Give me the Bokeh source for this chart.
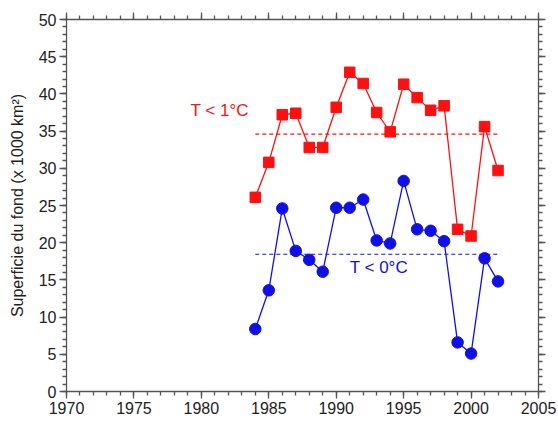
from bokeh.plotting import figure
from bokeh.models import LinearAxis, SingleIntervalTicker, Range1d, Label
from bokeh.embed import file_html
from bokeh.resources import INLINE

years = list(range(1984, 2003))
area_t1 = [26.1, 30.8, 37.2, 37.4, 32.8, 32.8, 38.2, 42.9, 41.4, 37.5, 34.9,
           41.3, 39.5, 37.8, 38.4, 21.8, 20.9, 35.6, 29.7]
area_t0 = [8.4, 13.6, 24.6, 18.9, 17.7, 16.1, 24.7, 24.7, 25.8, 20.3, 19.9,
           28.3, 21.8, 21.6, 20.2, 6.6, 5.1, 17.9, 14.8]
mean_t1 = 34.6
mean_t0 = 18.45
mean_span = [1984, 2002]

RED = "#ff1010"
BLUE = "#1010e6"
AX = "#555555"
FONT = "Liberation Sans"

p = figure(width=558, height=428, output_backend="svg", toolbar_location=None,
           x_range=Range1d(1970, 2005), y_range=Range1d(0, 50),
           min_border_left=66, min_border_right=20, min_border_top=19,
           min_border_bottom=37)
p.grid.visible = False
p.outline_line_color = None
p.background_fill_color = "white"
p.border_fill_color = "white"

def style(ax, labels=True):
    ax.axis_line_color = AX
    ax.axis_line_width = 1.3
    ax.major_tick_line_color = AX
    ax.minor_tick_line_color = AX
    ax.major_tick_line_width = 1.3
    ax.minor_tick_line_width = 1.3
    ax.major_tick_in = 0
    ax.major_tick_out = 7
    ax.minor_tick_in = 0
    ax.minor_tick_out = 4
    ax.major_label_text_font = FONT
    ax.major_label_text_font_size = "16px"
    ax.major_label_text_color = "#222222" if labels else None
    ax.major_label_standoff = 3

p.xaxis.ticker = SingleIntervalTicker(interval=5, num_minor_ticks=5)
p.yaxis.ticker = SingleIntervalTicker(interval=5, num_minor_ticks=5)
style(p.xaxis[0])
style(p.yaxis[0])
p.yaxis.axis_label = "Superficie du fond (x 1000 km²)"
p.yaxis.axis_label_text_font = FONT
p.yaxis.axis_label_text_font_size = "16px"
p.yaxis.axis_label_text_font_style = "normal"
p.yaxis.axis_label_text_color = "#222222"
p.yaxis.axis_label_standoff = 10

top = LinearAxis(ticker=SingleIntervalTicker(interval=5, num_minor_ticks=5))
right = LinearAxis(ticker=SingleIntervalTicker(interval=5, num_minor_ticks=5))
style(top, labels=False)
style(right, labels=False)
p.add_layout(top, "above")
p.add_layout(right, "right")

p.line(mean_span, [mean_t1, mean_t1], color=RED, line_width=1.2, line_dash="4 3")
p.line(mean_span, [mean_t0, mean_t0], color=BLUE, line_width=1.2, line_dash="4 3")

p.line(years, area_t1, color=RED, line_width=1.3)
p.scatter(years, area_t1, marker="square", size=10.5, color=RED)
p.line(years, area_t0, color=BLUE, line_width=1.3)
p.scatter(years, area_t0, marker="circle", size=11.5, color=BLUE)

p.add_layout(Label(x=1979.2, y=37.8, text="T < 1°C", text_color=RED,
                   text_font=FONT, text_font_size="17px", text_baseline="middle"))
p.add_layout(Label(x=1991.0, y=16.7, text="T < 0°C", text_color=BLUE,
                   text_font=FONT, text_font_size="17px", text_baseline="middle"))

open("out.html", "w").write(file_html(p, INLINE))
